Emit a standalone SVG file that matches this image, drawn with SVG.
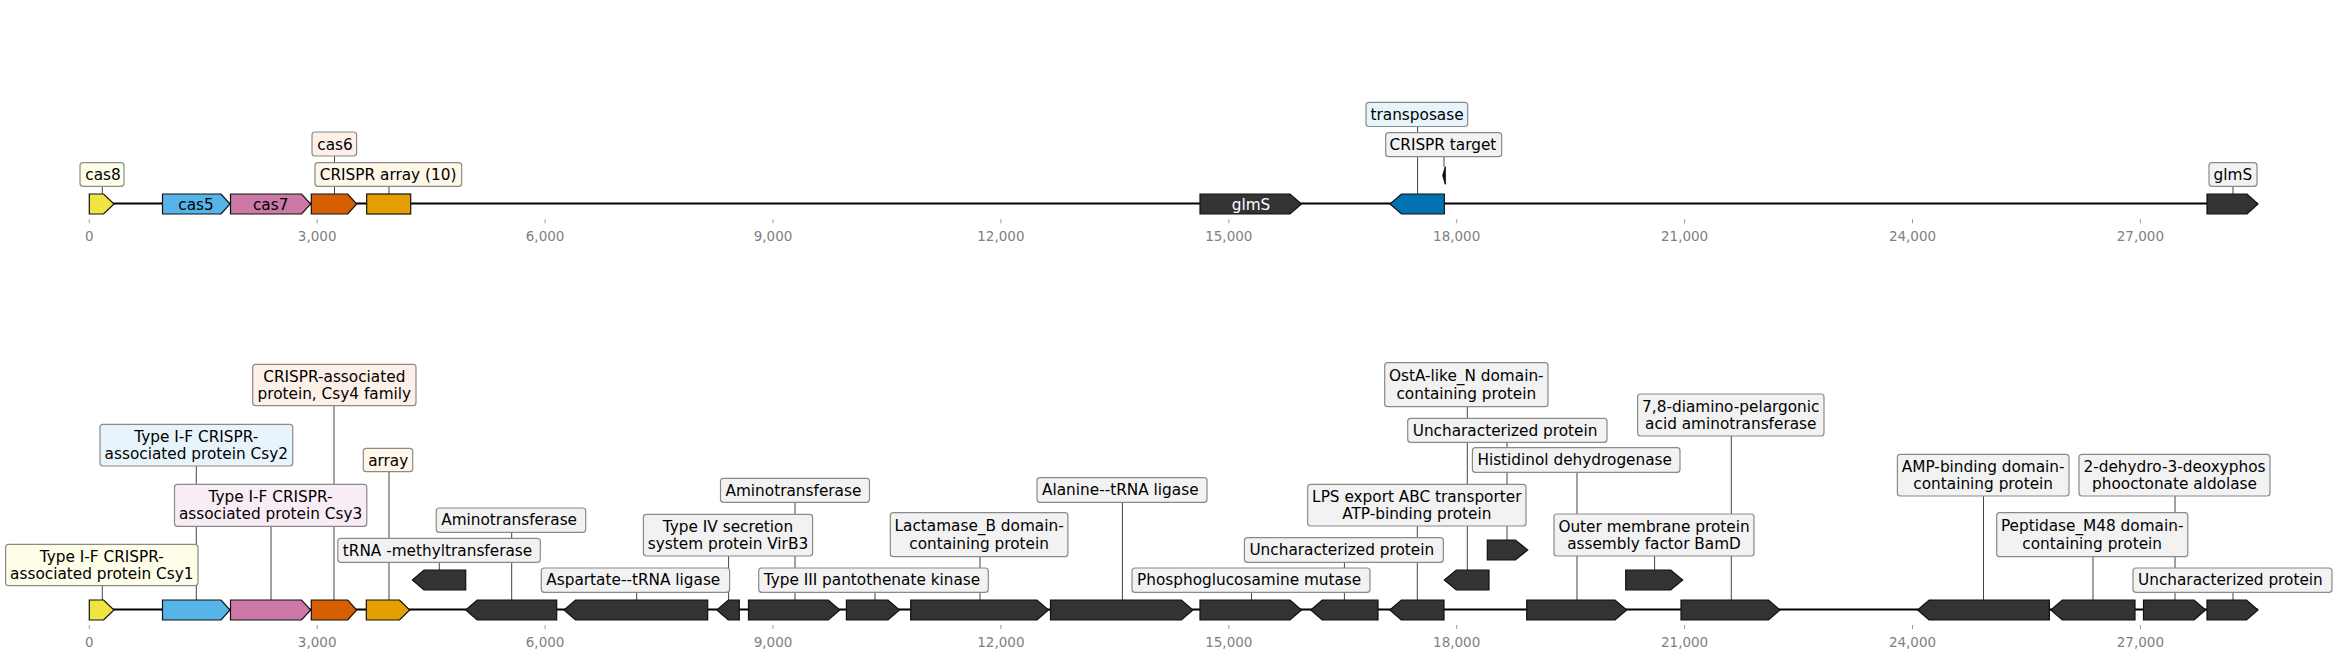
<svg xmlns="http://www.w3.org/2000/svg" width="2338" height="659" viewBox="0 0 2338 659">
<style>
.bb{stroke:#000;stroke-width:2;fill:none}
.g{stroke:#111;stroke-width:1.2}
.dk{fill:#333333}
.lb{stroke:#8a8a8a;stroke-width:1.2}
.gr{fill:#f2f2f2}
.ye{fill:#fefde8}
.bl{fill:#e8f4fc}
.pk{fill:#f8edf4}
.pe{fill:#fdf0e8}
.or{fill:#fef6e6}
.tb{fill:#e6f4fb}
.t{font-family:'DejaVu Sans',sans-serif;font-size:15.3px;fill:#000}
.m{text-anchor:middle}
.w{fill:#fff}
.tk{font-family:'DejaVu Sans',sans-serif;font-size:13.5px;fill:#808080;text-anchor:middle}
.tm{stroke:#999;stroke-width:1}
.c{stroke:#444;stroke-width:1;fill:none}
</style>
<rect width="2338" height="659" fill="#fff"/>
<g id="axes">
<path class="bb" d="M89.3,203.6H2258"/>
<path class="bb" d="M89.3,609.6H2258"/>
<g class="tm">
<path d="M89.3,219.3V223.3M317.2,219.3V223.3M545.1,219.3V223.3M773,219.3V223.3M1000.9,219.3V223.3M1228.8,219.3V223.3M1456.7,219.3V223.3M1684.6,219.3V223.3M1912.5,219.3V223.3M2140.4,219.3V223.3"/>
<path d="M89.3,625V629M317.2,625V629M545.1,625V629M773,625V629M1000.9,625V629M1228.8,625V629M1456.7,625V629M1684.6,625V629M1912.5,625V629M2140.4,625V629"/>
</g>
<g class="tk">
<text x="89.3" y="241">0</text><text x="317.2" y="241">3,000</text><text x="545.1" y="241">6,000</text><text x="773" y="241">9,000</text><text x="1000.9" y="241">12,000</text><text x="1228.8" y="241">15,000</text><text x="1456.7" y="241">18,000</text><text x="1684.6" y="241">21,000</text><text x="1912.5" y="241">24,000</text><text x="2140.4" y="241">27,000</text>
<text x="89.3" y="647">0</text><text x="317.2" y="647">3,000</text><text x="545.1" y="647">6,000</text><text x="773" y="647">9,000</text><text x="1000.9" y="647">12,000</text><text x="1228.8" y="647">15,000</text><text x="1456.7" y="647">18,000</text><text x="1684.6" y="647">21,000</text><text x="1912.5" y="647">24,000</text><text x="2140.4" y="647">27,000</text>
</g>
</g>
<g id="connectors" class="c">
<path d="M102.3,186.3V194M334.5,156V194M389,186.3V194M1417.6,126.5V194M1444,156.7V166.7M2233,186.3V194"/>
<path d="M102.3,585.7V600M196.3,466V600M271,526.3V600M334,405.7V600M389,471.7V600M439.3,562.3V570M511.7,532.3V600M636.7,592.3V600M728.6,556V600M795,502.3V600M875,592.3V600M980,556.7V600M1122.4,502.3V600M1251.5,592.3V600M1344.4,562.3V600M1417.3,526V600M1467.3,406.7V570M1507,442.3V540M1577,472.3V600M1654.6,556V570M1731.3,436V600M1983.5,496V600M2175,496V600M2093,556.7V600M2233,592.3V600"/>
</g>
<!-- top track -->
<g id="cas8"><path class="g" fill="#F0E442" d="M89.3,194H103.6L114,204L103.6,214H89.3Z"/><rect class="lb ye" x="80" y="162.7" width="44" height="23.6" rx="3"/><text class="t" x="85.3" y="180">cas8</text></g>
<g id="cas5"><path class="g" fill="#56B4E9" d="M162.5,194H221L230,204L221,214H162.5Z"/><text class="t m" x="196" y="209.5">cas5</text></g>
<g id="cas7"><path class="g" fill="#CC79A7" d="M230.5,194H301.5L310.7,204L301.5,214H230.5Z"/><text class="t m" x="270.7" y="209.5">cas7</text></g>
<g id="cas6"><path class="g" fill="#D55E00" d="M311.3,194H347.7L356.7,204L347.7,214H311.3Z"/><rect class="lb pe" x="312" y="132" width="44.6" height="24" rx="3"/><text class="t" x="317.3" y="149.5">cas6</text></g>
<g id="crispr-array-10"><rect class="g" fill="#E69F00" x="366.7" y="194" width="44" height="20"/><rect class="lb or" x="315" y="162.7" width="146.7" height="23.6" rx="3"/><text class="t" x="319.8" y="180">CRISPR array (10)</text></g>
<g id="glmS-1"><path class="g dk" d="M1200,194H1290L1301.5,204L1290,214H1200Z"/><text class="t m w" x="1251" y="209.5">glmS</text></g>
<g id="transposase"><path class="g" fill="#0072B2" d="M1444.3,194H1401.5L1390,204L1401.5,214H1444.3Z"/><rect class="lb tb" x="1366" y="102.3" width="101.7" height="24.2" rx="3"/><text class="t" x="1370.5" y="119.6">transposase</text></g>
<g id="crispr-target"><path fill="#111" stroke="#111" stroke-width="1" d="M1445.3,166.7V184.3L1442.7,175.5Z"/><rect class="lb gr" x="1385.7" y="132.7" width="116" height="24" rx="3"/><text class="t" x="1389.6" y="150">CRISPR target</text></g>
<g id="glmS-2"><path class="g dk" d="M2207,194H2247L2258,204L2247,214H2207Z"/><rect class="lb gr" x="2209" y="162.7" width="48" height="23.6" rx="3"/><text class="t" x="2213.6" y="180">glmS</text></g>
<!-- bottom track -->
<g id="csy1"><path class="g" fill="#F0E442" d="M89.3,600H103.6L114,610L103.6,620H89.3Z"/><rect class="lb ye" x="5.6" y="544.3" width="192.4" height="41.4" rx="3"/><text class="t m" x="101.8" y="561.6">Type I-F CRISPR-</text><text class="t m" x="101.8" y="579">associated protein Csy1</text></g>
<g id="csy2"><path class="g" fill="#56B4E9" d="M162.5,600H221L230,610L221,620H162.5Z"/><rect class="lb bl" x="100" y="424.3" width="192.7" height="41.7" rx="3"/><text class="t m" x="196.3" y="441.8">Type I-F CRISPR-</text><text class="t m" x="196.3" y="459.2">associated protein Csy2</text></g>
<g id="csy3"><path class="g" fill="#CC79A7" d="M230.5,600H301.5L310.7,610L301.5,620H230.5Z"/><rect class="lb pk" x="174.5" y="484.3" width="192.3" height="42" rx="3"/><text class="t m" x="270.6" y="501.9">Type I-F CRISPR-</text><text class="t m" x="270.6" y="519.3">associated protein Csy3</text></g>
<g id="csy4"><path class="g" fill="#D55E00" d="M311.3,600H347.7L356.7,610L347.7,620H311.3Z"/><rect class="lb pe" x="252.7" y="364.3" width="163.3" height="41.4" rx="3"/><text class="t m" x="334.3" y="381.6">CRISPR-associated</text><text class="t m" x="334.3" y="399">protein, Csy4 family</text></g>
<g id="array"><path class="g" fill="#E69F00" d="M366.3,600H399.5L409.7,610L399.5,620H366.3Z"/><rect class="lb or" x="363.3" y="448.3" width="49.4" height="23.4" rx="3"/><text class="t" x="368.2" y="465.6">array</text></g>
<g id="trna-methyltransferase"><path class="g dk" d="M465.7,570H424L412.3,580L424,590H465.7Z"/><rect class="lb gr" x="337.8" y="538.3" width="202.5" height="24" rx="3"/><text class="t" x="342.8" y="555.6">tRNA -methyltransferase</text></g>
<g id="aminotransferase-1"><path class="g dk" d="M556.7,600H477.2L465.7,610L477.2,620H556.7Z"/><rect class="lb gr" x="436.2" y="508" width="149.5" height="24.3" rx="3"/><text class="t" x="441.2" y="525.3">Aminotransferase</text></g>
<g id="aspartate-trna-ligase"><path class="g dk" d="M707.7,600H575.5L564,610L575.5,620H707.7Z"/><rect class="lb gr" x="541.3" y="568" width="188.3" height="24.3" rx="3"/><text class="t" x="546.3" y="585.3">Aspartate--tRNA ligase</text></g>
<g id="virb3"><path class="g dk" d="M739.3,600H728.3L716.8,610L728.3,620H739.3Z"/><rect class="lb gr" x="643.4" y="514.3" width="169.2" height="41.7" rx="3"/><text class="t m" x="728" y="531.8">Type IV secretion</text><text class="t m" x="728" y="549.2">system protein VirB3</text></g>
<g id="aminotransferase-2"><path class="g dk" d="M748.5,600H828.3L839.8,610L828.3,620H748.5Z"/><rect class="lb gr" x="720.5" y="478.3" width="149" height="24" rx="3"/><text class="t" x="725.5" y="495.6">Aminotransferase</text></g>
<g id="pantothenate-kinase"><path class="g dk" d="M846.4,600H888L899.5,610L888,620H846.4Z"/><rect class="lb gr" x="758.7" y="568" width="229.6" height="24.3" rx="3"/><text class="t" x="763.7" y="585.3">Type III pantothenate kinase</text></g>
<g id="lactamase"><path class="g dk" d="M910.7,600H1037L1048.5,610L1037,620H910.7Z"/><rect class="lb gr" x="890.3" y="512.7" width="177.6" height="44" rx="3"/><text class="t m" x="979.1" y="531">Lactamase_B domain-</text><text class="t m" x="979.1" y="549.4">containing protein</text></g>
<g id="alanine-trna-ligase"><path class="g dk" d="M1050.5,600H1181.4L1192.9,610L1181.4,620H1050.5Z"/><rect class="lb gr" x="1037" y="477.7" width="170" height="24.6" rx="3"/><text class="t" x="1042" y="495">Alanine--tRNA ligase</text></g>
<g id="phosphoglucosamine-mutase"><path class="g dk" d="M1200,600H1290L1301.5,610L1290,620H1200Z"/><rect class="lb gr" x="1132" y="568" width="238" height="24.3" rx="3"/><text class="t" x="1137" y="585.3">Phosphoglucosamine mutase</text></g>
<g id="uncharacterized-1"><path class="g dk" d="M1378,600H1322.2L1310.7,610L1322.2,620H1378Z"/><rect class="lb gr" x="1244.4" y="537.7" width="199" height="24.6" rx="3"/><text class="t" x="1249.4" y="555">Uncharacterized protein</text></g>
<g id="lps-export"><path class="g dk" d="M1444,600H1401.3L1389.8,610L1401.3,620H1444Z"/><rect class="lb gr" x="1307.7" y="484.3" width="218.3" height="41.7" rx="3"/><text class="t m" x="1416.8" y="501.8">LPS export ABC transporter</text><text class="t m" x="1416.8" y="519.2">ATP-binding protein</text></g>
<g id="ostA"><path class="g dk" d="M1489,570H1456.3L1444.3,580L1456.3,590H1489Z"/><rect class="lb gr" x="1384.7" y="362.7" width="163.3" height="44" rx="3"/><text class="t m" x="1466.3" y="381">OstA-like_N domain-</text><text class="t m" x="1466.3" y="399.4">containing protein</text></g>
<g id="uncharacterized-2"><path class="g dk" d="M1487.3,540H1515.3L1527.7,550L1515.3,560H1487.3Z"/><rect class="lb gr" x="1407.7" y="418.3" width="199.3" height="24" rx="3"/><text class="t" x="1412.7" y="435.6">Uncharacterized protein</text></g>
<g id="histidinol-dehydrogenase"><path class="g dk" d="M1526.7,600H1615L1626.7,610L1615,620H1526.7Z"/><rect class="lb gr" x="1472.4" y="447.7" width="207.6" height="24.6" rx="3"/><text class="t" x="1477.4" y="465">Histidinol dehydrogenase</text></g>
<g id="bamD"><path class="g dk" d="M1625.7,570H1670.7L1682.7,580L1670.7,590H1625.7Z"/><rect class="lb gr" x="1554" y="514" width="200" height="42" rx="3"/><text class="t m" x="1654" y="531.6">Outer membrane protein</text><text class="t m" x="1654" y="549">assembly factor BamD</text></g>
<g id="diamino-pelargonic"><path class="g dk" d="M1681,600H1768.5L1780,610L1768.5,620H1681Z"/><rect class="lb gr" x="1637.6" y="394" width="186.4" height="42" rx="3"/><text class="t m" x="1730.8" y="411.6">7,8-diamino-pelargonic</text><text class="t m" x="1730.8" y="429">acid aminotransferase</text></g>
<g id="amp-binding"><path class="g dk" d="M2049.4,600H1929.1L1917.6,610L1929.1,620H2049.4Z"/><rect class="lb gr" x="1897.4" y="454.3" width="171.6" height="41.7" rx="3"/><text class="t m" x="1983.2" y="471.8">AMP-binding domain-</text><text class="t m" x="1983.2" y="489.2">containing protein</text></g>
<g id="peptidase-m48"><path class="g dk" d="M2135,600H2062.3L2050.8,610L2062.3,620H2135Z"/><rect class="lb gr" x="1996.7" y="512.7" width="191.1" height="44" rx="3"/><text class="t m" x="2092.2" y="531">Peptidase_M48 domain-</text><text class="t m" x="2092.2" y="549.4">containing protein</text></g>
<g id="dehydro-aldolase"><path class="g dk" d="M2143.5,600H2194.1L2205.6,610L2194.1,620H2143.5Z"/><rect class="lb gr" x="2079" y="454.3" width="191" height="41.7" rx="3"/><text class="t m" x="2174.5" y="471.8">2-dehydro-3-deoxyphos</text><text class="t m" x="2174.5" y="489.2">phooctonate aldolase</text></g>
<g id="uncharacterized-3"><path class="g dk" d="M2207,600H2246.5L2258,610L2246.5,620H2207Z"/><rect class="lb gr" x="2133" y="568" width="199" height="24.3" rx="3"/><text class="t" x="2138" y="585.3">Uncharacterized protein</text></g>
</svg>
